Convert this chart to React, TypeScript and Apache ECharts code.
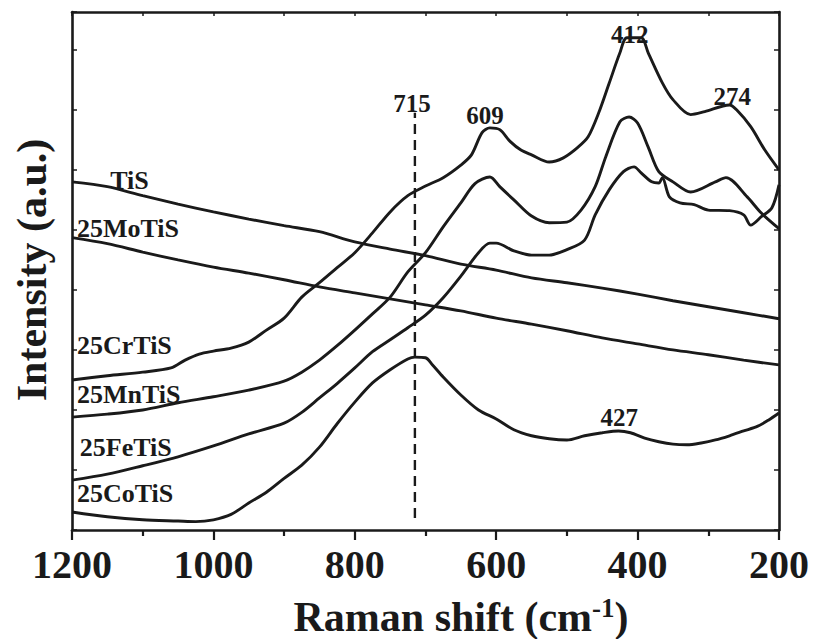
import React, { useEffect, useRef } from "react";
import * as echarts from "echarts";

// ---------- data ----------
const tisShift = [1200, 1150, 1100, 1050, 1000, 950, 900, 850, 800, 750, 700, 650, 600, 550, 500, 450, 400, 350, 300, 250, 200];
const tisIntensity = [5.80, 5.72, 5.57, 5.43, 5.30, 5.18, 5.07, 4.97, 4.80, 4.68, 4.57, 4.43, 4.33, 4.20, 4.12, 4.03, 3.93, 3.82, 3.72, 3.62, 3.52];

const moShift = [1200, 1150, 1100, 1050, 1000, 950, 900, 850, 800, 750, 700, 650, 600, 550, 500, 450, 400, 350, 300, 250, 200];
const moIntensity = [4.87, 4.77, 4.63, 4.50, 4.38, 4.28, 4.17, 4.05, 3.95, 3.85, 3.75, 3.65, 3.53, 3.43, 3.32, 3.20, 3.10, 3.00, 2.92, 2.83, 2.75];

const crShift = [1200, 1150, 1100, 1060, 1040, 1020, 1000, 975, 950, 925, 900, 875, 850, 825, 800, 775, 750, 725, 700, 675, 650, 635, 620, 609, 595, 580, 565, 550, 525, 505, 485, 470, 455, 440, 425, 415, 395, 385, 365, 350, 325, 305, 270, 260, 240, 220, 200];
const crIntensity = [2.50, 2.57, 2.63, 2.70, 2.83, 2.93, 2.98, 3.03, 3.13, 3.33, 3.53, 3.88, 4.12, 4.37, 4.62, 4.95, 5.30, 5.57, 5.73, 5.87, 6.08, 6.25, 6.62, 6.70, 6.67, 6.47, 6.33, 6.25, 6.13, 6.20, 6.37, 6.55, 6.95, 7.45, 7.95, 8.20, 8.20, 7.95, 7.45, 7.17, 6.92, 6.97, 7.08, 7.00, 6.72, 6.33, 6.00];

const mnShift = [1200, 1150, 1100, 1050, 1000, 950, 900, 875, 850, 825, 800, 775, 750, 725, 700, 675, 650, 630, 609, 595, 575, 550, 525, 500, 480, 460, 445, 425, 412, 400, 385, 370, 350, 325, 290, 275, 245, 225, 200];
const mnIntensity = [1.88, 1.93, 2.00, 2.12, 2.22, 2.33, 2.48, 2.63, 2.83, 3.07, 3.33, 3.60, 3.88, 4.30, 4.62, 5.05, 5.45, 5.77, 5.88, 5.72, 5.50, 5.23, 5.12, 5.13, 5.33, 5.72, 6.22, 6.80, 6.88, 6.78, 6.38, 5.97, 5.80, 5.63, 5.80, 5.87, 5.55, 5.28, 5.02];

const feShift = [1200, 1150, 1100, 1050, 1000, 950, 900, 875, 850, 825, 800, 775, 750, 725, 700, 675, 650, 625, 609, 600, 575, 550, 525, 500, 475, 460, 440, 420, 405, 395, 380, 370, 365, 355, 340, 320, 300, 270, 250, 240, 225, 210, 200];
const feIntensity = [0.83, 0.93, 1.07, 1.22, 1.40, 1.60, 1.78, 1.96, 2.20, 2.44, 2.70, 2.97, 3.17, 3.37, 3.58, 3.87, 4.23, 4.62, 4.78, 4.78, 4.65, 4.58, 4.58, 4.67, 4.83, 5.25, 5.67, 5.97, 6.05, 5.95, 5.80, 5.78, 5.87, 5.55, 5.45, 5.42, 5.33, 5.32, 5.25, 5.08, 5.22, 5.37, 5.75];

const coShift = [1200, 1150, 1100, 1050, 1025, 1000, 975, 950, 925, 900, 875, 850, 825, 800, 775, 750, 725, 715, 700, 690, 675, 650, 625, 600, 575, 550, 525, 500, 475, 450, 427, 410, 390, 370, 350, 330, 310, 290, 270, 250, 230, 215, 200];
const coIntensity = [0.30, 0.22, 0.17, 0.15, 0.14, 0.17, 0.26, 0.45, 0.63, 0.86, 1.08, 1.38, 1.77, 2.13, 2.45, 2.67, 2.85, 2.88, 2.87, 2.75, 2.55, 2.25, 2.00, 1.85, 1.67, 1.57, 1.52, 1.50, 1.57, 1.62, 1.65, 1.62, 1.53, 1.47, 1.43, 1.42, 1.45, 1.50, 1.57, 1.65, 1.73, 1.83, 1.95];

// sample names, placed at the left of each curve
const sampleNames = ["TiS", "25MoTiS", "25CrTiS", "25MnTiS", "25FeTiS", "25CoTiS"];
const sampleLabelShift = [1146, 1193, 1193, 1193, 1189, 1193];
const sampleLabelIntensity = [5.83, 5.02, 3.07, 2.25, 1.38, 0.60];

// peak annotations
const peakTexts = ["715", "609", "412", "274", "427"];
const peakShift = [719, 616, 411, 266, 426];
const peakIntensity = [7.11, 6.90, 8.25, 7.23, 1.87];

// dashed marker at 715 cm-1
const markerShift = [715, 715];
const markerIntensity = [0.2, 6.95];

// axis ticks
const xMin = 200;
const xMax = 1200;
const xInterval = 200;
const yMin = 0;
const yMax = 8.63;

const FONT = '"Liberation Serif", "Times New Roman", serif';
const INK = "#1a1a1a";

const zip = (xs: number[], ys: number[]) => xs.map((x, i) => [x, ys[i]]);

export default function App() {
  const ref = useRef<HTMLDivElement>(null);

  useEffect(() => {
    if (!ref.current) return;
    const chart = echarts.init(ref.current, undefined, { renderer: "svg" });

    const curves = [
      zip(tisShift, tisIntensity),
      zip(moShift, moIntensity),
      zip(crShift, crIntensity),
      zip(mnShift, mnIntensity),
      zip(feShift, feIntensity),
      zip(coShift, coIntensity),
    ];

    const lineSeries = curves.map((d, i) => ({
      type: "line",
      name: sampleNames[i],
      data: d,
      showSymbol: false,
      symbol: "none",
      smooth: 0.3,
      lineStyle: { color: INK, width: 2.9 },
      z: 3,
    }));

    const axisLine = { show: true, onZero: false, lineStyle: { color: INK, width: 2.6 } };

    const textLabel = {
      show: true,
      formatter: "{b}",
      fontWeight: "bold",
      fontFamily: FONT,
      color: INK,
      opacity: 1,
      textBorderWidth: 0,
      textShadowBlur: 0,
    };

    chart.setOption({
      animation: false,
      backgroundColor: "#ffffff",
      grid: { left: 72, right: 35, top: 12, bottom: 109, containLabel: false },
      xAxis: [
        {
          type: "value",
          min: xMin,
          max: xMax,
          interval: xInterval,
          inverse: true,
          position: "bottom",
          axisLine,
          axisTick: { show: true, inside: false, length: 10, lineStyle: { color: INK, width: 2.2 } },
          minorTick: { show: true, splitNumber: 2, length: 6, lineStyle: { color: INK, width: 2.2 } },
          axisLabel: {
            show: true,
            margin: 14,
            fontSize: 40,
            fontWeight: "bold",
            fontFamily: FONT,
            color: INK,
            formatter: (v: number) => String(v),
          },
          splitLine: { show: false },
          minorSplitLine: { show: false },
        },
        {
          type: "value",
          min: xMin,
          max: xMax,
          interval: 100,
          inverse: true,
          position: "top",
          axisLine,
          axisTick: { show: true, inside: true, length: 4, lineStyle: { color: INK, width: 1.5 } },
          axisLabel: { show: false },
          splitLine: { show: false },
        },
      ],
      yAxis: [
        {
          type: "value",
          min: yMin,
          max: yMax,
          interval: 1,
          position: "left",
          axisLine,
          axisTick: { show: true, inside: true, length: 5, lineStyle: { color: INK, width: 1.5 } },
          axisLabel: { show: false },
          splitLine: { show: false },
        },
        {
          type: "value",
          min: yMin,
          max: yMax,
          interval: 1,
          position: "right",
          axisLine,
          axisTick: { show: true, inside: true, length: 5, lineStyle: { color: INK, width: 1.5 } },
          axisLabel: { show: false },
          splitLine: { show: false },
        },
      ],
      series: [
        ...lineSeries,
        {
          type: "line",
          name: "marker715",
          data: zip(markerShift, markerIntensity),
          showSymbol: false,
          symbol: "none",
          lineStyle: { color: INK, width: 2.4, type: [10, 6] },
          z: 2,
        },
        {
          type: "scatter",
          name: "peaks",
          symbolSize: 0,
          silent: true,
          itemStyle: { color: INK, opacity: 1 },
          data: peakTexts.map((t, i) => ({ name: t, value: [peakShift[i], peakIntensity[i]] })),
          label: { ...textLabel, position: "inside", fontSize: 25 },
          z: 4,
        },
        {
          type: "scatter",
          name: "samples",
          symbolSize: 0,
          silent: true,
          itemStyle: { color: INK, opacity: 1 },
          data: sampleNames.map((t, i) => ({ name: t, value: [sampleLabelShift[i], sampleLabelIntensity[i]] })),
          label: { ...textLabel, position: "right", distance: 0, fontSize: 26 },
          z: 4,
        },
      ],
      graphic: [
        {
          type: "text",
          x: 461,
          y: 617,
          style: {
            text: "{a|Raman shift (cm}{b|-1}{a|)}",
            align: "center",
            verticalAlign: "middle",
            rich: {
              a: { fontSize: 42, fontWeight: "bold", fontFamily: FONT, fill: INK, lineHeight: 46 },
              b: { fontSize: 27, fontWeight: "bold", fontFamily: FONT, fill: INK, lineHeight: 46, verticalAlign: "top" },
            },
          },
        },
        {
          type: "text",
          x: 32,
          y: 270,
          rotation: Math.PI / 2,
          style: {
            text: "Intensity (a.u.)",
            align: "center",
            verticalAlign: "middle",
            fontSize: 42,
            fontWeight: "bold",
            fontFamily: FONT,
            fill: INK,
          },
        },
      ],
    });

    return () => chart.dispose();
  }, []);

  return <div ref={ref} style={{ width: 814, height: 639, position: "absolute", left: 0, top: 0 }} />;
}
